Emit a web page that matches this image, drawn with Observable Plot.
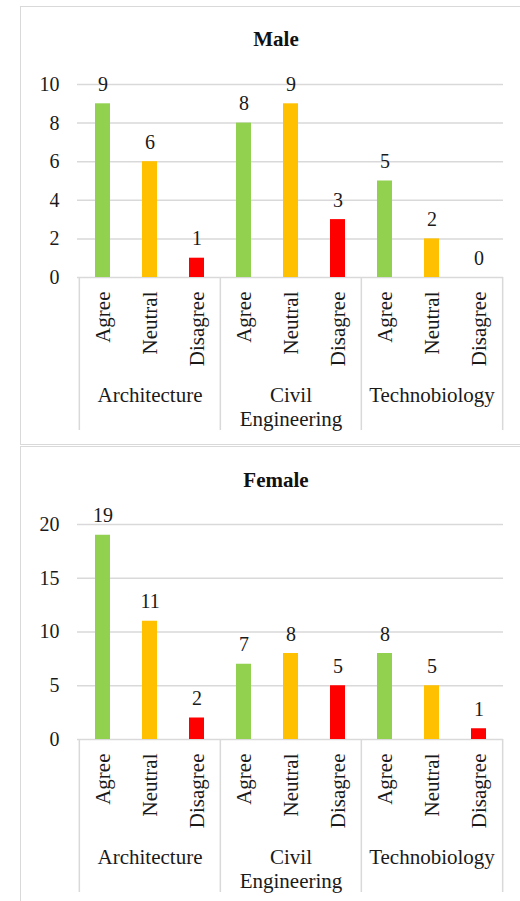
<!DOCTYPE html>
<html><head><meta charset="utf-8">
<script src="https://cdn.jsdelivr.net/npm/d3@7"></script>
<script src="https://cdn.jsdelivr.net/npm/@observablehq/plot@0.6"></script>
<style>
body{margin:0;background:#fff;overflow:hidden;}
#wrap{position:relative;width:520px;height:901px;overflow:hidden;font-family:Liberation Serif, serif;}
.panel{position:absolute;left:20px;width:520px;border:1.5px solid #d9d9d9;box-sizing:border-box;}
.title{position:absolute;left:20px;width:512px;text-align:center;font-weight:bold;font-size:21px;line-height:21px;color:#111;}
.chart{position:absolute;left:0;}
</style></head>
<body>
<div id="wrap">
  <div class="panel" style="top:5.5px;height:439px;"></div>
  <div class="panel" style="top:446px;height:470px;"></div>
  <div class="title" style="top:28.5px;">Male</div>
  <div class="title" style="top:469.5px;">Female</div>
  <div class="chart" id="male" style="top:6px;"></div>
  <div class="chart" id="female" style="top:447px;"></div>
</div>
<script>
const groups = ["Architecture", "Civil Engineering", "Technobiology"];
const groupLabels = ["Architecture", "Civil\nEngineering", "Technobiology"];
const responses = ["Agree", "Neutral", "Disagree"];
const maleValues = [9, 6, 1, 8, 9, 3, 5, 2, 0];
const femaleValues = [19, 11, 2, 7, 8, 5, 8, 5, 1];
const maleTicks = [0, 2, 4, 6, 8, 10];
const femaleTicks = [0, 5, 10, 15, 20];
const colors = ["#92d050", "#ffc000", "#ff0000"];

const FONT = "Liberation Serif";
const keys = [];
groups.forEach(g => responses.forEach(r => keys.push(g + "|" + r)));

function makeRows(values) {
  return keys.map((k, i) => {
    const [group, response] = k.split("|");
    return {key: k, group, response, value: values[i]};
  });
}

function chart(values, ticks, height, marginTop, marginBottom) {
  const rows = makeRows(values);
  const W = 520, ML = 77, MR = 17;
  const step = (W - ML - MR) / keys.length;
  const pad = 1 - 15 / step;
  const plotH = height - marginTop - marginBottom;
  const groupRows = groups.map((g, i) => ({group: g, label: groupLabels[i], first: g + "|" + responses[0], mid: g + "|" + responses[1], last: g + "|" + responses[2]}));
  const ink = "#1a1a1a";
  const svg = Plot.plot({
    width: W, height, marginTop, marginBottom, marginLeft: ML, marginRight: MR,
    style: {fontSize: "20px", color: ink, background: "transparent", overflow: "visible"},
    x: {domain: keys, paddingInner: pad, paddingOuter: pad / 2, axis: null},
    y: {domain: [0, d3.max(ticks)], axis: null},
    color: {domain: responses, range: colors},
    marks: [
      Plot.gridY(ticks, {stroke: "#d9d9d9", strokeOpacity: 1, strokeWidth: 1.5}),
      Plot.axisY(ticks, {tickSize: 0, tickPadding: 18, fontSize: 20, fontFamily: FONT, label: null, fill: ink}),
      Plot.barY(rows, {x: "key", y: "value", fill: "response"}),
      Plot.text(rows, {x: "key", y: "value", text: d => String(d.value), lineAnchor: "bottom", dy: -13, fontSize: 20, fontFamily: FONT, fill: ink}),
      Plot.text(rows, {x: "key", y: d => 0, text: "response", rotate: -90, textAnchor: "end", dy: 14, fontSize: 21, fontFamily: FONT, fill: ink}),
      Plot.text(groupRows, {x: "mid", y: d => 0, text: "label", lineAnchor: "top", lineHeight: 1.12, dy: 108, fontSize: 21, fontFamily: FONT, fill: ink}),
      Plot.ruleX(groupRows, {x: "first", dx: -step / 2, stroke: "#d9d9d9", strokeWidth: 1.5, insetTop: plotH, insetBottom: -153}),
      Plot.ruleX(groupRows.slice(-1), {x: "last", dx: step / 2, stroke: "#d9d9d9", strokeWidth: 1.5, insetTop: plotH, insetBottom: -153})
    ]
  });
  svg.setAttribute("font-family", FONT);
  return svg;
}

document.getElementById("male").append(chart(maleValues, maleTicks, 437, 78, 166));
document.getElementById("female").append(chart(femaleValues, femaleTicks, 454, 77, 162));
</script>
</body></html>
